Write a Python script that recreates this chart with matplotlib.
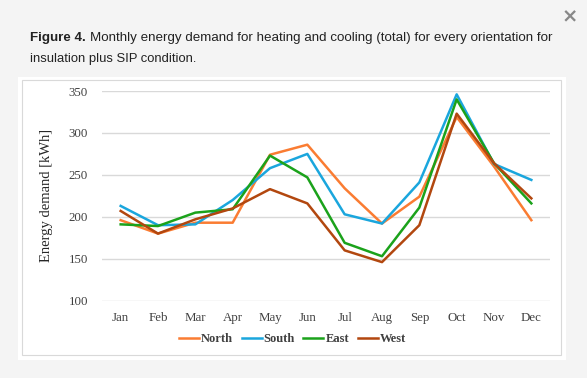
import matplotlib.pyplot as plt
from matplotlib.patches import Rectangle

# Monthly energy demand [kWh], insulation plus SIP condition
months = ['Jan', 'Feb', 'Mar', 'Apr', 'May', 'Jun', 'Jul', 'Aug', 'Sep', 'Oct', 'Nov', 'Dec']
north = [196, 180, 193, 193, 274, 286, 234, 192, 224, 319, 260, 196]
south = [213, 190, 191, 220, 258, 275, 203, 192, 241, 346, 263, 244]
east = [191, 189, 205, 209, 273, 247, 169, 153, 211, 340, 264, 216]
west = [207, 180, 197, 210, 233, 216, 160, 146, 190, 323, 264, 222]

series = [('North', north, '#FA7C32'), ('South', south, '#1AA6DD'),
          ('East', east, '#1BA21B'), ('West', west, '#B2470F')]

W, H = 587, 378
fig = plt.figure(figsize=(W / 100, H / 100), dpi=100)
fig.patch.set_facecolor('#f4f4f4')

def px(x0, y0, x1, y1):
    # pixel box -> figure fraction rect
    return (x0 / W, 1 - y1 / H, (x1 - x0) / W, (y1 - y0) / H)

# white card and inner chart frame
x, y, w, h = px(18, 77, 566, 360)
fig.patches.append(Rectangle((x, y), w, h, transform=fig.transFigure,
                             facecolor='white', edgecolor='none', zorder=-2))
x, y, w, h = px(22, 80, 561, 355)
fig.patches.append(Rectangle((x, y), w, h, transform=fig.transFigure,
                             facecolor='white', edgecolor='#d9d9d9', lw=0.8, zorder=-1))

# caption
fig.text(30 / W, 1 - 38 / H, 'Figure 4.', fontsize=9.6, fontweight='bold',
         family='Liberation Sans', color='#222222', va='center')
fig.text(90 / W, 1 - 38 / H,
         'Monthly energy demand for heating and cooling (total) for every orientation for',
         fontsize=9.6, family='Liberation Sans', color='#222222', va='center')
fig.text(30 / W, 1 - 59 / H, 'insulation plus SIP condition.', fontsize=9.4,
         family='Liberation Sans', color='#222222', va='center')
fig.text(570 / W, 1 - 17 / H, '\u00d7', fontsize=14, fontweight='bold',
         color='#888888', ha='center', va='center', family='DejaVu Sans')

ax = fig.add_axes(px(102, 91, 550, 300.7), zorder=1)
ax.set_facecolor('none')
xs = range(len(months))
for name, vals, color in series:
    ax.plot(xs, vals, color=color, lw=1.8, label=name, zorder=3)

ax.set_xlim(-0.5, 11.5)
ax.set_ylim(100, 350)
ax.set_yticks([100, 150, 200, 250, 300, 350])
ax.set_xticks(list(xs))
ax.set_xticklabels(months)
ax.grid(axis='y', color='#d9d9d9', lw=1)
ax.set_axisbelow(True)
for s in ax.spines.values():
    s.set_visible(False)
ax.tick_params(length=0, labelsize=9.3, colors='#404040', pad=8)
ax.tick_params(axis='y', pad=10)
for lab in ax.get_xticklabels() + ax.get_yticklabels():
    lab.set_family('Liberation Serif')
ax.set_ylabel('Energy demand [kWh]', family='Liberation Serif', fontsize=10.5,
              color='#262626', labelpad=11)

leg = ax.legend(loc='upper center', bbox_to_anchor=(0.425, -0.10), ncol=4,
                frameon=False, handlelength=1.6, handletextpad=0.15, columnspacing=0.7,
                prop={'family': 'Liberation Serif', 'weight': 'bold', 'size': 9})
for t in leg.get_texts():
    t.set_color('#404040')

fig.savefig('out.png', dpi=100, facecolor=fig.get_facecolor())
